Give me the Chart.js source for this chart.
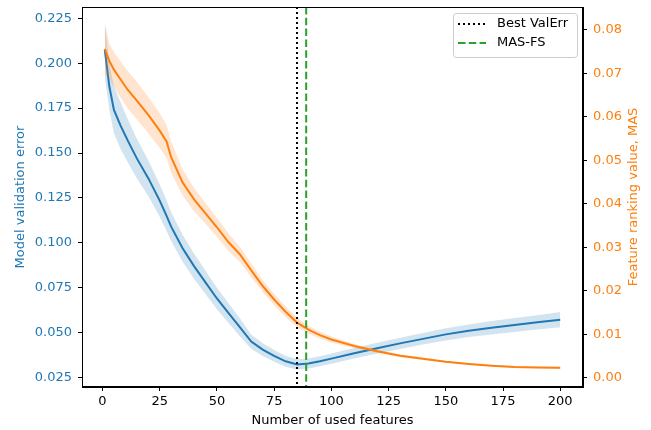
<!DOCTYPE html>
<html>
<head>
<meta charset="utf-8">
<script src="https://cdn.jsdelivr.net/npm/chart.js@4.4.1/dist/chart.umd.min.js"></script>
<style>
  html, body { margin: 0; padding: 0; background: #fff; }
  #chart { display: block; }
</style>
</head>
<body>
<canvas id="chart" width="651" height="430"></canvas>
<script>
// Number of used features (x positions)
const features = [1, 3, 5, 8, 11, 15, 20, 25, 28, 30, 35, 40, 45, 50, 55, 60, 65, 70, 75, 80, 85, 90, 95, 100, 110, 120, 130, 140, 150, 160, 170, 180, 190, 200];

// Model validation error (left axis), mean and spread
const valErr = [0.2075, 0.187, 0.174, 0.165, 0.157, 0.147, 0.136, 0.1235, 0.115, 0.109, 0.097, 0.087, 0.078, 0.069, 0.061, 0.053, 0.045, 0.0405, 0.037, 0.034, 0.0323, 0.0328, 0.034, 0.0355, 0.0385, 0.0413, 0.044, 0.0465, 0.049, 0.051, 0.0527, 0.0542, 0.0557, 0.0572];
const valErrStd = [0.015, 0.013, 0.013, 0.013, 0.012, 0.011, 0.010, 0.009, 0.0085, 0.008, 0.0075, 0.007, 0.0065, 0.006, 0.0055, 0.005, 0.004, 0.0035, 0.0033, 0.003, 0.0029, 0.0028, 0.0028, 0.0028, 0.0029, 0.003, 0.0031, 0.0032, 0.0034, 0.0035, 0.0037, 0.0039, 0.004, 0.0042];

// Feature ranking value MAS (right axis), mean and spread
const masValue = [0.0756, 0.0728, 0.0708, 0.0685, 0.0662, 0.0637, 0.0604, 0.0568, 0.0543, 0.0507, 0.0449, 0.041, 0.0378, 0.0346, 0.0312, 0.0284, 0.0247, 0.0211, 0.018, 0.0152, 0.0127, 0.0111, 0.0098, 0.0088, 0.0073, 0.0061, 0.0051, 0.0044, 0.0037, 0.0032, 0.0028, 0.0025, 0.0024, 0.0023];
const masStd = [0.006, 0.004, 0.004, 0.0042, 0.0043, 0.0043, 0.0042, 0.004, 0.0038, 0.0036, 0.003, 0.0027, 0.0024, 0.0022, 0.002, 0.0018, 0.0016, 0.0014, 0.0013, 0.0012, 0.0011, 0.0009, 0.0008, 0.0007, 0.0005, 0.0004, 0.0003, 0.0003, 0.0002, 0.0002, 0.0002, 0.0002, 0.0002, 0.0002];

// Selected feature counts
const bestValErr = 85;
const masFs = 89;

// Tick labels
const xTicks = [0, 25, 50, 75, 100, 125, 150, 175, 200];
const leftTicks = [0.025, 0.05, 0.075, 0.1, 0.125, 0.15, 0.175, 0.2, 0.225];
const rightTicks = [0, 0.01, 0.02, 0.03, 0.04, 0.05, 0.06, 0.07, 0.08];

const BLUE = '#1f77b4';
const ORANGE = '#ff7f0e';
const FONT = { family: 'DejaVu Sans', size: 13 };

const pts = (arr) => features.map((f, i) => ({ x: f, y: arr[i] }));
const lower = (m, s) => m.map((v, i) => v - s[i]);
const upper = (m, s) => m.map((v, i) => v + s[i]);

// Vertical reference lines, box frame, legend and right axis label
const overlayPlugin = {
    id: 'overlay',
    afterDatasetsDraw(chart) {
        const ctx = chart.ctx;
        const area = chart.chartArea;
        const xs = chart.scales.x;

        ctx.save();
        ctx.lineWidth = 2;
        // Best ValErr
        ctx.strokeStyle = '#000';
        ctx.setLineDash([2, 3]);
        let px = xs.getPixelForValue(bestValErr);
        ctx.beginPath();
        ctx.moveTo(px, area.top);
        ctx.lineTo(px, area.bottom);
        ctx.stroke();
        // MAS-FS
        ctx.strokeStyle = '#2ca02c';
        ctx.setLineDash([7.5, 3.3]);
        px = xs.getPixelForValue(masFs);
        ctx.beginPath();
        ctx.moveTo(px, area.top);
        ctx.lineTo(px, area.bottom);
        ctx.stroke();
        ctx.setLineDash([]);

        // frame
        ctx.strokeStyle = '#000';
        ctx.lineWidth = 1;
        ctx.strokeRect(Math.round(area.left) + 0.5, Math.round(area.top) + 0.5,
            Math.round(area.right - area.left) - 1, Math.round(area.bottom - area.top) - 1);

        // legend
        const bw = 124, bh = 44;
        const bx = area.right - 6 - bw, by = area.top + 6;
        ctx.fillStyle = 'rgba(255,255,255,0.8)';
        ctx.strokeStyle = '#cccccc';
        ctx.beginPath();
        ctx.roundRect(bx + 0.5, by + 0.5, bw, bh, 3);
        ctx.fill();
        ctx.stroke();

        const rows = [
            { label: 'Best ValErr', color: '#000', dash: [2, 3] },
            { label: 'MAS-FS', color: '#2ca02c', dash: [7.5, 3.3] }
        ];
        ctx.font = '13px "DejaVu Sans"';
        ctx.textBaseline = 'middle';
        rows.forEach((r, i) => {
            const ry = by + 11 + i * 19;
            ctx.strokeStyle = r.color;
            ctx.lineWidth = 2;
            ctx.setLineDash(r.dash);
            ctx.beginPath();
            ctx.moveTo(bx + 5, ry);
            ctx.lineTo(bx + 33, ry);
            ctx.stroke();
            ctx.setLineDash([]);
            ctx.fillStyle = '#000';
            ctx.fillText(r.label, bx + 44, ry);
        });

        // right axis title, reading bottom to top like the left one
        const ys2 = chart.scales.y2;
        ctx.translate(ys2.right - 17, (area.top + area.bottom) / 2);
        ctx.rotate(-Math.PI / 2);
        ctx.fillStyle = ORANGE;
        ctx.textAlign = 'center';
        ctx.fillText('Feature ranking value, MAS', 0, 0);
        ctx.restore();
    }
};

const tickGrid = { drawOnChartArea: false, color: '#000', tickLength: 4, tickWidth: 1 };

// keep the plot box where the reference has it
const fitVertical = (width) => (s) => {
    s.width = width;
    s.paddingTop = 7;
    s.paddingBottom = 0;
};

new Chart(document.getElementById('chart'), {
    type: 'line',
    data: {
        datasets: [
            { data: pts(lower(valErr, valErrStd)), yAxisID: 'y', borderWidth: 0, pointRadius: 0, fill: false, order: 8 },
            { data: pts(upper(valErr, valErrStd)), yAxisID: 'y', borderWidth: 0, pointRadius: 0, fill: '-1', backgroundColor: 'rgba(31,119,180,0.2)', order: 8 },
            { data: pts(valErr), yAxisID: 'y', borderColor: BLUE, borderWidth: 2, pointRadius: 0, fill: false, order: 7 },
            { data: pts(lower(masValue, masStd)), yAxisID: 'y2', borderWidth: 0, pointRadius: 0, fill: false, order: 6 },
            { data: pts(upper(masValue, masStd)), yAxisID: 'y2', borderWidth: 0, pointRadius: 0, fill: '-1', backgroundColor: 'rgba(255,127,14,0.2)', order: 6 },
            { data: pts(masValue), yAxisID: 'y2', borderColor: ORANGE, borderWidth: 2, pointRadius: 0, fill: false, order: 5 }
        ]
    },
    options: {
        responsive: false,
        animation: false,
        layout: { padding: 0 },
        plugins: { legend: { display: false }, tooltip: { enabled: false } },
        elements: { line: { tension: 0 } },
        scales: {
            x: {
                type: 'linear',
                min: -8.95,
                max: 209.95,
                afterBuildTicks: s => { s.ticks = xTicks.map(v => ({ value: v })); },
                afterFit: s => { s.height = 43; },
                ticks: { color: '#000', font: FONT, padding: 3, maxRotation: 0, autoSkip: false, callback: v => String(v) },
                grid: tickGrid,
                border: { color: '#000', width: 1 },
                title: { display: true, text: 'Number of used features', color: '#000', font: FONT, padding: { top: 0, bottom: 2 } }
            },
            y: {
                position: 'left',
                min: 0.0197,
                max: 0.2313,
                afterBuildTicks: s => { s.ticks = leftTicks.map(v => ({ value: v })); },
                afterFit: fitVertical(82),
                ticks: { color: BLUE, font: FONT, padding: 6, callback: v => v.toFixed(3) },
                grid: tickGrid,
                border: { color: '#000', width: 1 },
                title: { display: true, text: 'Model validation error', color: BLUE, font: FONT, padding: { top: 13, bottom: 0 } }
            },
            y2: {
                position: 'right',
                min: -0.0021,
                max: 0.0852,
                afterBuildTicks: s => { s.ticks = rightTicks.map(v => ({ value: v })); },
                afterFit: fitVertical(68),
                ticks: { color: ORANGE, font: FONT, padding: 6, callback: v => v.toFixed(2) },
                grid: tickGrid,
                border: { color: '#000', width: 1 }
            }
        }
    },
    plugins: [overlayPlugin]
});
</script>
</body>
</html>
